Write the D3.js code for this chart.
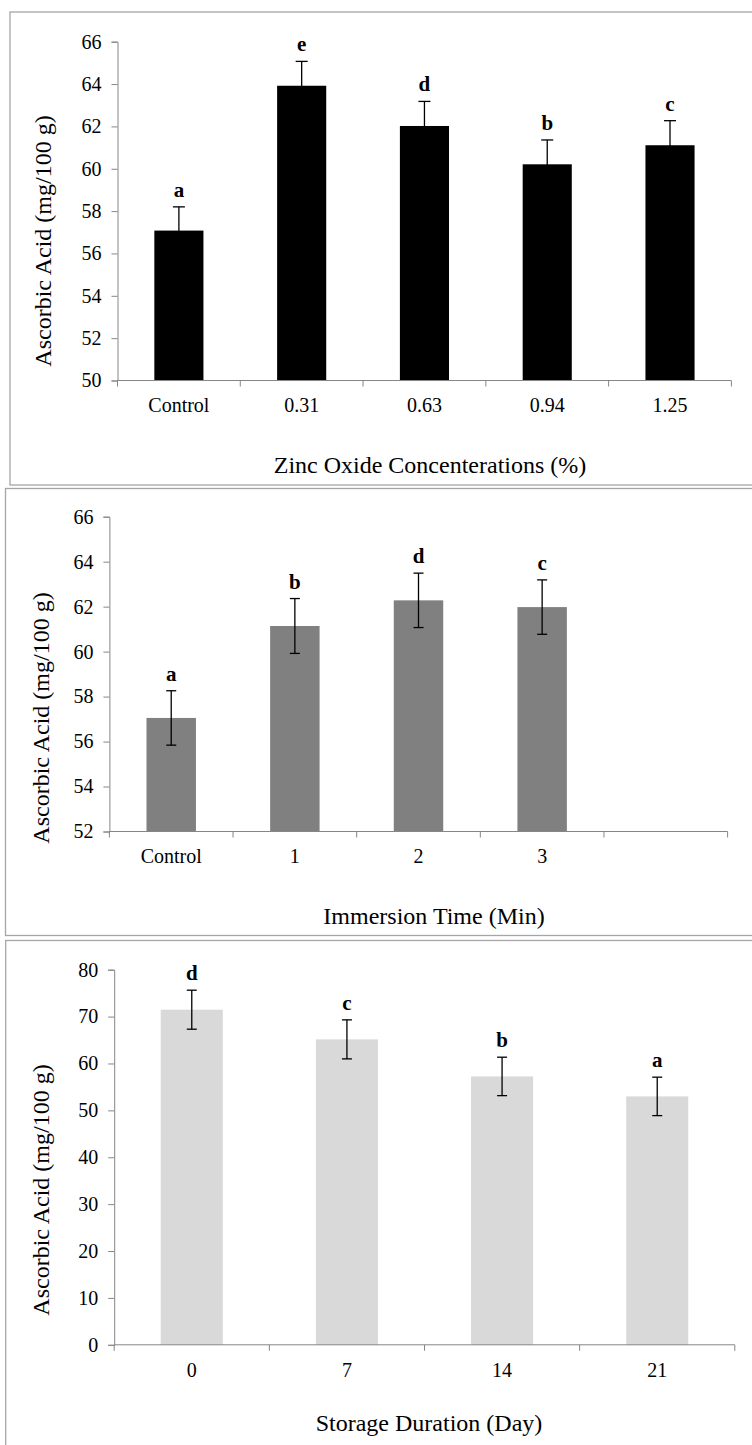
<!DOCTYPE html>
<html>
<head>
<meta charset="utf-8">
<script src="https://cdn.jsdelivr.net/npm/d3@7"></script>
<style>
  body { margin: 0; background: #fff; }
  svg { display: block; }
  text { font-family: "Liberation Serif", "Times New Roman", serif; fill: #000; }
</style>
</head>
<body>
<script>
// ---------- data ----------
// panel 1 : zinc oxide concentration
const zincCats    = ["Control", "0.31", "0.63", "0.94", "1.25"];
const zincMeans   = [57.08, 63.92, 62.02, 60.21, 61.11];
const zincErrors  = [1.12, 1.15, 1.16, 1.15, 1.16];
const zincLetters = ["a", "e", "d", "b", "c"];
const zincTicks   = [50, 52, 54, 56, 58, 60, 62, 64, 66];

// panel 2 : immersion time (last category is empty)
const immCats    = ["Control", "1", "2", "3", ""];
const immMeans   = [57.05, 61.14, 62.28, 61.98];
const immErrors  = [1.21, 1.22, 1.21, 1.21];
const immLetters = ["a", "b", "d", "c"];
const immTicks   = [52, 54, 56, 58, 60, 62, 64, 66];

// panel 3 : storage duration
const storCats    = ["0", "7", "14", "21"];
const storMeans   = [71.47, 65.14, 57.24, 52.98];
const storErrors  = [4.16, 4.16, 4.10, 4.10];
const storLetters = ["d", "c", "b", "a"];
const storTicks   = [0, 10, 20, 30, 40, 50, 60, 70, 80];

const yTitle = "Ascorbic Acid (mg/100 g)";

var W = 752, H = 1445;
var svg = d3.select("body").append("svg")
    .attr("width", W)
    .attr("height", H);

// one panel = one framed Excel-style bar chart
function drawPanel(p) {
  var g = svg.append("g");

  // frame
  g.append("rect")
      .attr("x", p.frame[0]).attr("y", p.frame[1])
      .attr("width", p.frame[2]).attr("height", p.frame[3])
      .attr("fill", "none")
      .attr("stroke", "#a6a6a6")
      .attr("stroke-width", 1.3);

  var x = d3.scaleBand()
      .domain(p.cats.map(function(d, i) { return i; }))
      .range(p.xRange)
      .paddingInner(0)
      .paddingOuter(0);

  var y = d3.scaleLinear()
      .domain([p.ticks[0], p.ticks[p.ticks.length - 1]])
      .range(p.yRange);

  var barW = x.bandwidth() * 0.4;

  // bars
  g.selectAll(".bar")
      .data(p.means)
      .enter().append("rect")
      .attr("x", function(d, i) { return x(i) + (x.bandwidth() - barW) / 2; })
      .attr("width", barW)
      .attr("y", function(d) { return y(d); })
      .attr("height", function(d) { return y(p.ticks[0]) - y(d); })
      .attr("fill", p.fill);

  // error bars
  var capW = p.capW;
  var eb = g.selectAll(".err")
      .data(p.means)
      .enter().append("g")
      .attr("transform", function(d, i) { return "translate(" + (x(i) + x.bandwidth() / 2) + ",0)"; })
      .attr("stroke", "#000")
      .attr("stroke-width", 1.3);
  eb.append("line")
      .attr("y1", function(d, i) { return y(d - p.errs[i]); })
      .attr("y2", function(d, i) { return y(d + p.errs[i]); });
  eb.append("line")
      .attr("x1", -capW / 2).attr("x2", capW / 2)
      .attr("y1", function(d, i) { return y(d + p.errs[i]); })
      .attr("y2", function(d, i) { return y(d + p.errs[i]); });
  eb.append("line")
      .attr("x1", -capW / 2).attr("x2", capW / 2)
      .attr("y1", function(d, i) { return y(d - p.errs[i]); })
      .attr("y2", function(d, i) { return y(d - p.errs[i]); });

  // significance letters
  g.selectAll(".letter")
      .data(p.means)
      .enter().append("text")
      .attr("x", function(d, i) { return x(i) + x.bandwidth() / 2; })
      .attr("y", function(d, i) { return y(d + p.errs[i]) - 10; })
      .attr("text-anchor", "middle")
      .style("font-size", "21px")
      .style("font-weight", "bold")
      .text(function(d, i) { return p.letters[i]; });

  // y axis
  var yAxis = g.append("g")
      .attr("transform", "translate(" + p.xRange[0] + ",0)")
      .call(d3.axisLeft(y).tickValues(p.ticks).tickSize(6).tickPadding(10).tickFormat(d3.format("d")));
  yAxis.selectAll("path, line").attr("stroke", "#868686");
  yAxis.selectAll("text").style("font-size", "20px").style("font-family", "Liberation Serif");

  // x axis: line + ticks at band edges + centred labels
  var xAxis = g.append("g")
      .attr("transform", "translate(0," + p.yRange[0] + ")");
  xAxis.append("line")
      .attr("x1", p.xRange[0]).attr("x2", p.xRange[1])
      .attr("stroke", "#868686");
  var edges = p.cats.map(function(d, i) { return x(i); }).concat([p.xRange[1]]);
  xAxis.selectAll(".edge")
      .data(edges)
      .enter().append("line")
      .attr("x1", function(d) { return d; })
      .attr("x2", function(d) { return d; })
      .attr("y2", 6)
      .attr("stroke", "#868686");
  xAxis.selectAll(".lab")
      .data(p.cats)
      .enter().append("text")
      .attr("x", function(d, i) { return x(i) + x.bandwidth() / 2; })
      .attr("y", p.labelY - p.yRange[0])
      .attr("text-anchor", "middle")
      .style("font-size", "20px")
      .text(function(d) { return d; });

  // titles
  g.append("text")
      .attr("x", p.xTitle[0]).attr("y", p.xTitle[1])
      .attr("text-anchor", "middle")
      .style("font-size", "24px")
      .text(p.xLabel);

  g.append("text")
      .attr("transform", "translate(" + p.yTitle[0] + "," + p.yTitle[1] + ") rotate(-90)")
      .attr("text-anchor", "middle")
      .style("font-size", "24px")
      .text(yTitle);
}

drawPanel({
  frame: [10, 12, 760, 473],
  cats: zincCats, means: zincMeans, errs: zincErrors, letters: zincLetters, ticks: zincTicks,
  xRange: [117.5, 731.4], yRange: [380.5, 41.7],
  fill: "#000000", capW: 12,
  labelY: 412, xLabel: "Zinc Oxide Concenterations (%)", xTitle: [430, 473],
  yTitle: [51, 241]
});

drawPanel({
  frame: [5.5, 488.5, 760, 447],
  cats: immCats, means: immMeans, errs: immErrors, letters: immLetters, ticks: immTicks,
  xRange: [109.4, 727.6], yRange: [831.5, 516.7],
  fill: "#808080", capW: 10,
  labelY: 863, xLabel: "Immersion Time (Min)", xTitle: [434, 924],
  yTitle: [49, 718]
});

drawPanel({
  frame: [5.7, 940.5, 760, 520],
  cats: storCats, means: storMeans, errs: storErrors, letters: storLetters, ticks: storTicks,
  xRange: [114.2, 734.8], yRange: [1344.8, 969.7],
  fill: "#d9d9d9", capW: 10,
  labelY: 1377, xLabel: "Storage Duration (Day)", xTitle: [429, 1431],
  yTitle: [49, 1190]
});
</script>
</body>
</html>
